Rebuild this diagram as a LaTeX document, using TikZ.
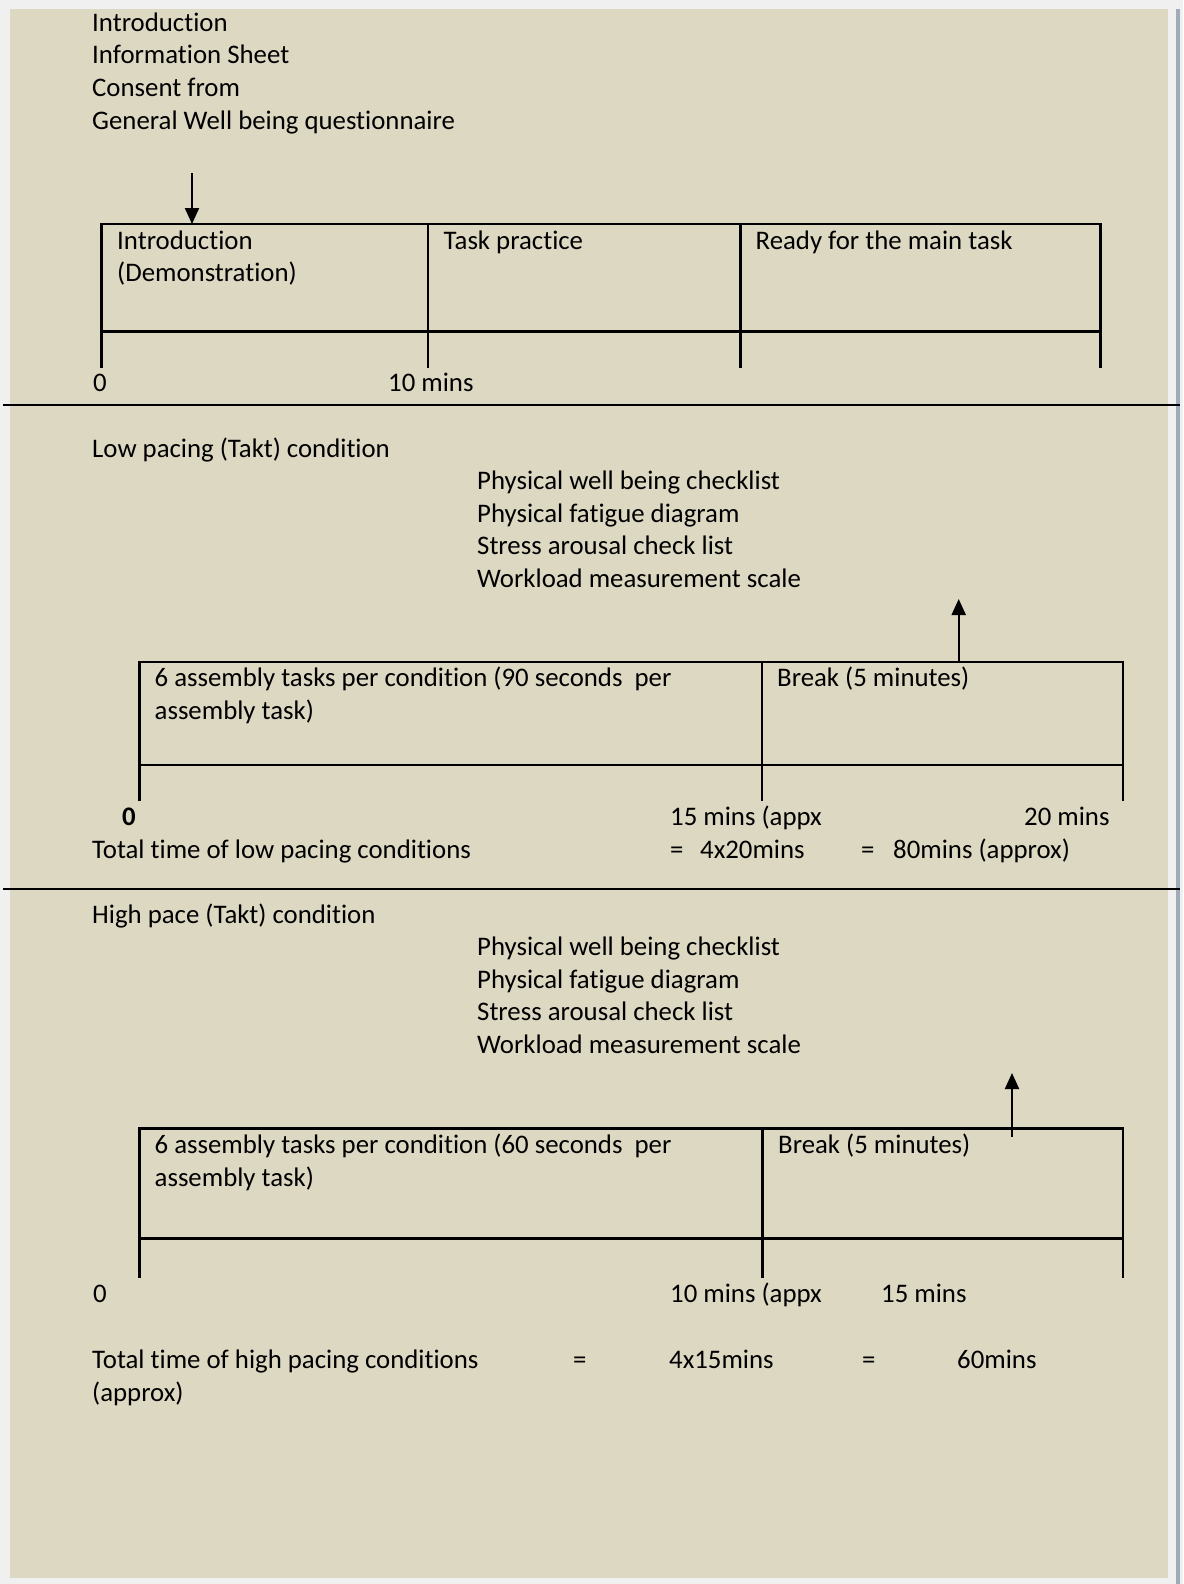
\documentclass[tikz,border=0pt]{standalone}
\usepackage{fontspec}
\setmainfont{Carlito}[Ligatures={NoCommon,NoContextual}]
\usetikzlibrary{arrows.meta}
\definecolor{bgtan}{HTML}{DDD8C2}
\definecolor{outergray}{HTML}{F0F0F0}
\definecolor{edgeblue}{HTML}{A0AAB8}
\begin{document}
\begin{tikzpicture}[x=1pt,y=-1pt,
  txt/.style={anchor=base west,inner sep=0pt,font=\fontsize{26.8}{32.5}\selectfont},
  ln/.style={line width=2.2pt},
  cell/.style={draw,line width=2.2pt,anchor=north west,inner sep=0pt,outer sep=0pt},
  arr/.style={line width=2.2pt,-{Triangle[width=14pt,length=16pt]}}]
\fill[outergray] (0,0) rectangle (1183,1584);
\useasboundingbox (0,0) rectangle (1183,1584);
\fill[bgtan] (10,9) rectangle (1168,1578);
\fill[edgeblue] (1176,9) rectangle (1179.5,1584);
% dividers
\coordinate (dl1) at (3,405); \coordinate (dr1) at (1180,405);
\coordinate (dl2) at (3,889); \coordinate (dr2) at (1180,889);
\draw[ln] (dl1) -- (dr1);
\draw[ln] (dl2) -- (dr2);
% ---------- section 1 ----------
\node[txt] (t1a) at (92,31.5) {Introduction};
\node[txt] (t1b) at (92,64) {Information Sheet};
\node[txt] (t1c) at (92,96.5) {Consent from};
\node[txt] (t1d) at (92,129) {General Well being questionnaire};
\node[cell,minimum width=326.5pt,minimum height=107.5pt] (c1) at (101.5,224) {};
\node[cell,minimum width=312.5pt,minimum height=107.5pt] (c2) at (428,224) {};
\node[cell,minimum width=360pt,minimum height=107.5pt] (c3) at (740.5,224) {};
\draw[ln] (c1.south west) -- ++(0,36);
\draw[ln] (c2.south west) -- ++(0,36);
\draw[ln] (c3.south west) -- ++(0,36);
\draw[ln] (c3.south east) -- ++(0,36);
\coordinate (a1) at (192,173);
\draw[arr] (a1) -- (a1 |- c1.north);
\node[txt] (c1t) at (117,249) {Introduction};
\node[txt] (c1u) at (117,281.5) {(Demonstration)};
\node[txt] (c2t) at (443.5,249) {Task practice};
\node[txt] (c3t) at (755.5,249) {Ready for the main task};
\node[txt] (l1a) at (93,391) {0};
\node[txt] (l1b) at (388,391) {10 mins};
% ---------- section 2 ----------
\node[txt] (s2) at (92,457) {Low pacing (Takt) condition};
\node[txt] (s2a) at (477,489.5) {Physical well being checklist};
\node[txt] (s2b) at (477,522) {Physical fatigue diagram};
\node[txt] (s2c) at (477,554.5) {Stress arousal check list};
\node[txt] (s2d) at (477,587) {Workload measurement scale};
\node[cell,minimum width=622.5pt,minimum height=103pt] (d1) at (139.5,661.7) {};
\node[cell,minimum width=361pt,minimum height=103pt] (d2) at (762,661.7) {};
\draw[ln] (d1.south west) -- ++(0,36.5);
\draw[ln] (d2.south west) -- ++(0,36.5);
\draw[ln] (d2.south east) -- ++(0,36.5);
\coordinate (a2) at (958.7,599);
\draw[arr] (a2 |- d2.north) -- (a2);
\node[txt] (d1t) at (154.5,686.5) {6 assembly tasks per condition (90 seconds\ \ per};
\node[txt] (d1u) at (154.5,719) {assembly task)};
\node[txt] (d2t) at (777,686.5) {Break (5 minutes)};
\node[txt,font=\fontsize{26.8}{32.5}\selectfont\bfseries] (l2a) at (122,825.5) {0};
\node[txt] (l2b) at (670,825.5) {15 mins (appx};
\node[txt] (l2c) at (1024,825.5) {20 mins};
\node[txt] (tot2a) at (92,858) {Total time of low pacing conditions};
\node[txt] (tot2b) at (670,858) {=};
\node[txt] (tot2c) at (700,858) {4x20mins};
\node[txt] (tot2d) at (861,858) {=};
\node[txt] (tot2e) at (893,858) {80mins (approx)};
% ---------- section 3 ----------
\node[txt] (s3) at (92,923) {High pace (Takt) condition};
\node[txt] (s3a) at (477,955.5) {Physical well being checklist};
\node[txt] (s3b) at (477,988) {Physical fatigue diagram};
\node[txt] (s3c) at (477,1020.5) {Stress arousal check list};
\node[txt] (s3d) at (477,1053) {Workload measurement scale};
\node[cell,minimum width=623pt,minimum height=110pt] (e1) at (139.5,1128.5) {};
\node[cell,minimum width=360.5pt,minimum height=110pt] (e2) at (762.5,1128.5) {};
\draw[ln] (e1.south west) -- ++(0,39.5);
\draw[ln] (e2.south west) -- ++(0,39.5);
\draw[ln] (e2.south east) -- ++(0,39.5);
\coordinate (a3s) at (1012,1136.5);
\coordinate (a3) at (1012,1073);
\draw[arr] (a3s) -- (a3);
\node[txt] (e1t) at (154.5,1153.5) {6 assembly tasks per condition (60 seconds\ \ per};
\node[txt] (e1u) at (154.5,1186) {assembly task)};
\node[txt] (e2t) at (778,1153.5) {Break (5 minutes)};
\node[txt] (l3a) at (93,1302.5) {0};
\node[txt] (l3b) at (670,1302.5) {10 mins (appx};
\node[txt] (l3c) at (881,1302.5) {15 mins};
\node[txt] (tot3a) at (92,1368.5) {Total time of high pacing conditions};
\node[txt] (tot3b) at (573,1368.5) {=};
\node[txt] (tot3c) at (669,1368.5) {4x15mins};
\node[txt] (tot3d) at (862,1368.5) {=};
\node[txt] (tot3e) at (957,1368.5) {60mins};
\node[txt] (tot3f) at (92,1401) {(approx)};
\end{tikzpicture}
\end{document}
